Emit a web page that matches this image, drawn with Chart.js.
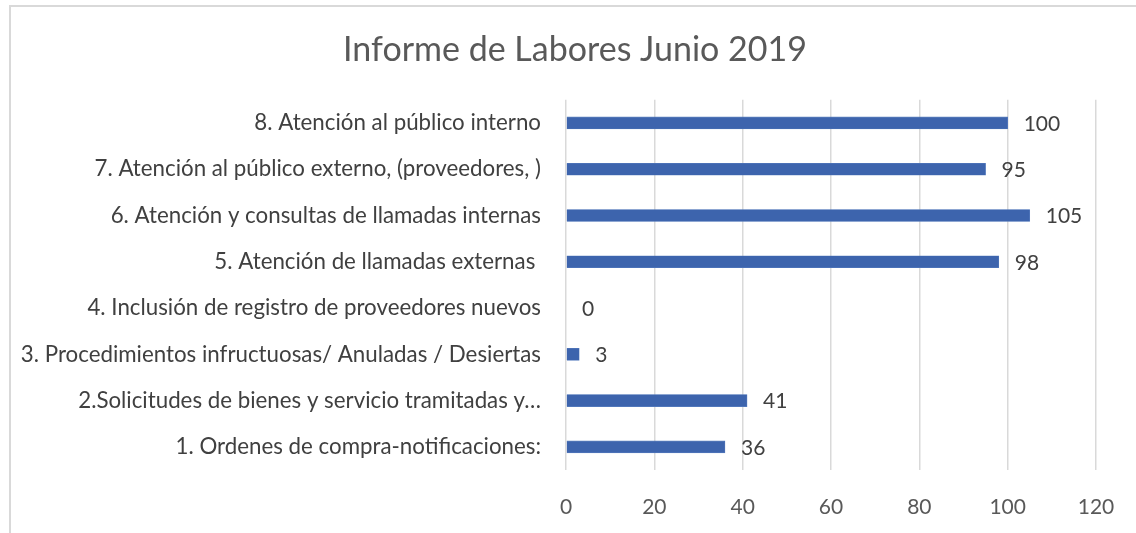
<!DOCTYPE html>
<html>
<head>
<meta charset="utf-8">
<script src="https://cdn.jsdelivr.net/npm/chart.js@4/dist/chart.umd.min.js"></script>
<style>
  html, body { margin: 0; padding: 0; background: #fff; overflow: hidden; }
  #marco { position: absolute; left: 9px; top: 5px; width: 1200px; height: 600px; border: 2px solid #d9d9d9; }
  #wrap { position: absolute; left: 0; top: 0; width: 1136px; height: 533px; }
</style>
</head>
<body>
<div id="marco"></div>
<div id="wrap"><canvas id="grafico" width="1136" height="533"></canvas></div>
<script>
// actividades del mes, de la 1 a la 8
const actividades = [
  '1. Ordenes de compra-notificaciones:',
  '2.Solicitudes de bienes y servicio tramitadas y…',
  '3. Procedimientos infructuosas/ Anuladas / Desiertas',
  '4. Inclusión de registro de proveedores nuevos',
  '5. Atención de llamadas externas ',
  '6. Atención y consultas de llamadas internas',
  '7. Atención al público externo, (proveedores, )',
  '8. Atención al público interno'
];
const cantidades = [36, 41, 3, 0, 98, 105, 95, 100];
const ejeX = [0, 20, 40, 60, 80, 100, 120];

const fuente = 'Lato, "Open Sans", sans-serif';

// escribe la cantidad al final de cada barra
const etiquetas = {
  id: 'etiquetas',
  afterDatasetsDraw(chart) {
    const ctx = chart.ctx;
    const meta = chart.getDatasetMeta(0);
    ctx.save();
    ctx.font = '21px ' + fuente;
    ctx.fillStyle = '#404040';
    ctx.textAlign = 'left';
    ctx.textBaseline = 'middle';
    meta.data.forEach((bar, i) => {
      ctx.fillText(String(cantidades[i]), bar.x + 16, bar.y + 1);
    });
    ctx.restore();
  }
};

new Chart('grafico', {
  type: 'bar',
  data: {
    labels: actividades,
    datasets: [{
      data: cantidades,
      backgroundColor: '#3d64ad',
      borderColor: '#5a7fc0',
      borderWidth: 0.6,
      barThickness: 12
    }]
  },
  options: {
    indexAxis: 'y',
    responsive: false,
    animation: false,
    layout: { padding: { left: 14, right: 0, top: 0, bottom: 0 } },
    plugins: {
      legend: { display: false },
      tooltip: { enabled: false },
      title: {
        display: true,
        text: 'Informe de Labores Junio 2019',
        color: '#595959',
        font: { family: fuente, size: 34, weight: 'normal' },
        padding: { top: 30, bottom: 29 }
      }
    },
    scales: {
      x: {
        min: ejeX[0],
        max: ejeX[ejeX.length - 1],
        afterBuildTicks(scale) { scale.ticks = ejeX.map(v => ({ value: v })); },
        grid: { color: '#d9d9d9', lineWidth: 1.5, drawTicks: false },
        border: { display: false },
        ticks: { color: '#595959', padding: 25, font: { family: fuente, size: 21 } },
        afterFit(scale) { scale.height = 63; scale.paddingRight = 0; }
      },
      y: {
        reverse: true,
        grid: { display: false, drawTicks: false },
        border: { display: false },
        ticks: { color: '#404040', padding: 25, font: { family: fuente, size: 22.3 } },
        afterFit(scale) { scale.width = 552; }
      },
      // margen vacío a la derecha del área de barras
      y2: {
        position: 'right',
        grid: { display: false, drawTicks: false },
        border: { display: false },
        ticks: { display: false, padding: 0 },
        afterFit(scale) { scale.width = 40; }
      }
    }
  },
  plugins: [etiquetas]
});
</script>
</body>
</html>
